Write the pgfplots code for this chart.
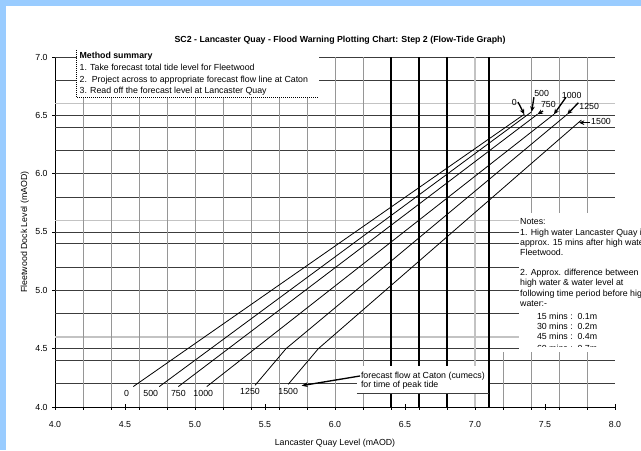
\documentclass[border=0pt]{standalone}
\usepackage{fontspec}
\setmainfont{Liberation Sans}
\usepackage{pgfplots}
\pgfplotsset{compat=1.18}
\usetikzlibrary{arrows.meta}
\definecolor{frameblue}{RGB}{153,204,255}
\definecolor{gridgray}{RGB}{150,150,150}
\definecolor{lightgrid}{RGB}{195,195,195}
\definecolor{hgrid}{RGB}{60,60,60}
\newcommand{\fs}{\fontsize{6.6}{7.9}\selectfont}
\begin{document}
\begin{tikzpicture}
\useasboundingbox (-41.25pt,-32.25pt) rectangle (439.5pt,305.25pt);
\clip (-41.25pt,-32.25pt) rectangle (439.5pt,305.25pt);
\fill[frameblue] (-41.25pt,-32.25pt) rectangle (439.5pt,305.25pt);
\fill[white] (-36.75pt,-32.25pt) rectangle (439.5pt,300.75pt);
\begin{axis}[
  scale only axis, width=420pt, height=262.5pt,
  xmin=4, xmax=8, ymin=4, ymax=7,
  clip=false,
  axis x line*=bottom, axis y line*=left,
  axis line style={black, line width=0.6pt},
  xtick={4,4.5,5,5.5,6,6.5,7,7.5,8},
  minor xtick={4.2,4.4,4.6,4.8,5.2,5.4,5.6,5.8,6.2,6.4,6.6,6.8,7.2,7.4,7.6,7.8},
  ytick={4,4.5,5,5.5,6,6.5,7},
  tick align=center, major tick length=4pt, minor tick length=4pt,
  tick style={black, line width=0.6pt},
  xticklabel style={font=\fs, anchor=center, yshift=-11pt},
  yticklabel style={font=\fs},
  /pgf/number format/fixed, /pgf/number format/fixed zerofill,
  /pgf/number format/precision=1, /pgf/number format/assume math mode=true,
]
% horizontal grid lines
\pgfplotsinvokeforeach{4.2,4.4,4.5,4.8,5.0,5.2,5.4,5.5,5.8,6.0,6.2,6.4,6.5,6.8,7.0}{
  \draw[hgrid, line width=0.6pt] (axis cs:4,#1) -- (axis cs:8,#1);
}
\pgfplotsinvokeforeach{4.6,5.6,6.6}{
  \draw[lightgrid, line width=1pt] (axis cs:4,#1) -- (axis cs:8,#1);
}
% vertical grid lines
\pgfplotsinvokeforeach{4.2,4.4,4.6,4.8,5.0,5.2,5.4,5.6,5.8,6.0,6.2,7.4,7.6,7.8}{
  \draw[gridgray, line width=0.6pt] (axis cs:#1,4) -- (axis cs:#1,7);
}
\draw[gridgray, line width=0.6pt] (axis cs:7.2,4) -- (axis cs:7.2,4.47);
\draw[lightgrid, line width=1pt] (axis cs:7.0,4) -- (axis cs:7.0,7);
\pgfplotsinvokeforeach{6.4,6.6,6.8,7.1}{
  \draw[black, line width=1.5pt] (axis cs:#1,4) -- (axis cs:#1,7);
}
% boxes
\fill[white] (axis cs:4.155,7.06) rectangle (axis cs:5.886,6.655);
\draw[black, line width=0.5pt, densely dotted] (axis cs:4.155,7.06) -- (axis cs:4.155,6.655) -- (axis cs:5.886,6.655);
\fill[white] (axis cs:7.314,5.663) rectangle (axis cs:8.3,4.47);
\fill[white] (axis cs:6.157,4.351) rectangle (axis cs:7.093,4.118);
\draw[hgrid, line width=0.6pt] (axis cs:6.157,4.118) -- (axis cs:7.1,4.118);
% flow lines
\addplot[black, line width=0.6pt, mark=none] coordinates {(4.559,4.175) (7.352,6.509)};
\addplot[black, line width=0.6pt, mark=none] coordinates {(4.745,4.175) (7.405,6.531)};
\addplot[black, line width=0.6pt, mark=none] coordinates {(4.881,4.175) (7.446,6.509)};
\addplot[black, line width=0.6pt, mark=none] coordinates {(5.084,4.175) (7.564,6.509)};
\addplot[black, line width=0.6pt, mark=none] coordinates {(5.429,4.186) (5.65,4.5) (7.659,6.509)};
\addplot[black, line width=0.6pt, mark=none] coordinates {(5.666,4.195) (5.881,4.5) (7.76,6.46)};
% method summary text
\node[font=\fs\bfseries, anchor=west, inner sep=0pt] at (axis cs:4.174,7.009) {Method summary};
\node[font=\fs, anchor=west, inner sep=0pt] at (axis cs:4.174,6.912) {1. Take forecast total tide level for Fleetwood};
\node[font=\fs, anchor=west, inner sep=0pt] at (axis cs:4.174,6.803) {2.\ \ Project across to appropriate forecast flow line at Caton};
\node[font=\fs, anchor=west, inner sep=0pt] at (axis cs:4.174,6.704) {3. Read off the forecast level at Lancaster Quay};
% notes
\begin{scope}
\clip (axis cs:7.314,5.663) rectangle (axis cs:8.3,4.515);
\node[font=\fs, anchor=west, inner sep=0pt] at (axis cs:7.321,5.588) {Notes:};
\node[font=\fs, anchor=west, inner sep=0pt] at (axis cs:7.321,5.489) {1. High water Lancaster Quay is};
\node[font=\fs, anchor=west, inner sep=0pt] at (axis cs:7.321,5.403) {approx. 15 mins after high water at};
\node[font=\fs, anchor=west, inner sep=0pt] at (axis cs:7.321,5.323) {Fleetwood.};
\node[font=\fs, anchor=west, inner sep=0pt] at (axis cs:7.321,5.146) {2. Approx. difference between};
\node[font=\fs, anchor=west, inner sep=0pt] at (axis cs:7.321,5.060) {high water \& water level at};
\node[font=\fs, anchor=west, inner sep=0pt] at (axis cs:7.321,4.969) {following time period before high};
\node[font=\fs, anchor=west, inner sep=0pt] at (axis cs:7.321,4.883) {water:-};
\node[font=\fs, anchor=west, inner sep=0pt] at (axis cs:7.441,4.774) {15 mins :\ \ 0.1m};
\node[font=\fs, anchor=west, inner sep=0pt] at (axis cs:7.441,4.688) {30 mins :\ \ 0.2m};
\node[font=\fs, anchor=west, inner sep=0pt] at (axis cs:7.441,4.609) {45 mins :\ \ 0.4m};
\node[font=\fs, anchor=west, inner sep=0pt] at (axis cs:7.441,4.50) {60 mins :\ \ 0.7m};
\end{scope}
% forecast text and arrow
\node[font=\fs, anchor=west, inner sep=0pt] at (axis cs:6.184,4.266) {forecast flow at Caton (cumecs)};
\node[font=\fs, anchor=west, inner sep=0pt] at (axis cs:6.184,4.183) {for time of peak tide};
\draw[black, line width=1pt, -{Stealth[length=4.5pt,width=3.5pt]}] (axis cs:6.179,4.266) -- (axis cs:5.762,4.183);
% bottom labels
\node[font=\fs] at (axis cs:4.512,4.12) {0};
\node[font=\fs] at (axis cs:4.684,4.12) {500};
\node[font=\fs] at (axis cs:4.881,4.12) {750};
\node[font=\fs] at (axis cs:5.059,4.12) {1000};
\node[font=\fs] at (axis cs:5.393,4.13) {1250};
\node[font=\fs] at (axis cs:5.666,4.13) {1500};
% top labels and arrows
\node[font=\fs] at (axis cs:7.281,6.608) {0};
\node[font=\fs] at (axis cs:7.476,6.689) {500};
\node[font=\fs] at (axis cs:7.524,6.589) {750};
\node[font=\fs] at (axis cs:7.691,6.674) {1000};
\node[font=\fs] at (axis cs:7.816,6.58) {1250};
\node[font=\fs] at (axis cs:7.9,6.445) {1500};
\draw[black, line width=1pt, -{Stealth[length=4pt,width=3.5pt]}] (axis cs:7.307,6.614) -- (axis cs:7.352,6.509);
\draw[black, line width=1pt, -{Stealth[length=4pt,width=3.5pt]}] (axis cs:7.421,6.655) -- (axis cs:7.405,6.531);
\draw[black, line width=1pt, -{Stealth[length=4pt,width=3.5pt]}] (axis cs:7.486,6.537) -- (axis cs:7.446,6.509);
\draw[black, line width=1pt, -{Stealth[length=4pt,width=3.5pt]}] (axis cs:7.65,6.655) -- (axis cs:7.564,6.509);
\draw[black, line width=1pt, -{Stealth[length=4pt,width=3.5pt]}] (axis cs:7.738,6.608) -- (axis cs:7.659,6.509);
\draw[black, line width=1pt, -{Stealth[length=4pt,width=3.5pt]}] (axis cs:7.821,6.437) -- (axis cs:7.743,6.437);
% titles
\node[font=\fs\bfseries] at (axis cs:6.036,7.146) {SC2 - Lancaster Quay - Flood Warning Plotting Chart: Step 2 (Flow-Tide Graph)};
\node[font=\fs] at (axis cs:6.0,3.691) {Lancaster Quay Level (mAOD)};
\node[font=\fs, rotate=90] at (axis cs:3.785,5.5) {Fleetwood Dock Level (mAOD)};
\end{axis}
\end{tikzpicture}
\end{document}
